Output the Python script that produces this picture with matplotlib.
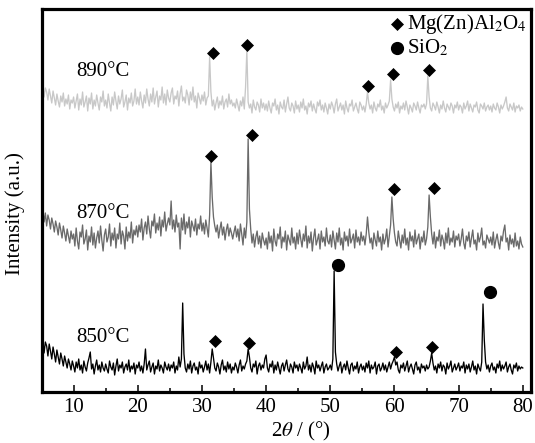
import numpy as np
import matplotlib
matplotlib.use("Agg")
import matplotlib.pyplot as plt

plt.rcParams["font.family"] = ["Liberation Serif", "DejaVu Serif"]
plt.rcParams["mathtext.fontset"] = "stix"

# 2-theta scan: 5-80 deg, 0.2 deg step
TWO_THETA_START, TWO_THETA_STOP, N_POINTS = 5.0, 80.0, 376

# Intensity (a.u.) of each sample, one row per 5 deg
i_850 = [
    44, 53, 39, 50, 46, 36, 48, 41, 33, 45, 38, 30, 42, 35, 28, 39, 33, 26, 36, 30, 24, 33, 28, 22, 31,
    26, 20, 30, 24, 33, 22, 27, 19, 31, 25, 21, 29, 34, 40, 23, 28, 18, 26, 32, 22, 27, 20, 30, 24, 21,
    28, 23, 19, 31, 25, 22, 29, 17, 26, 33, 21, 27, 24, 30, 19, 25, 28, 22, 32, 20, 26, 23, 29, 18, 27,
    24, 30, 21, 26, 19, 28, 43, 22, 27, 31, 20, 25, 29, 18, 26, 23, 32, 21, 27, 24, 19, 30, 25, 22, 28,
    21, 27, 24, 30, 19, 26, 22, 35, 25, 33, 89, 38, 24, 20, 28, 23, 31, 19, 26, 29, 22, 25, 18, 30, 24,
    27, 20, 25, 31, 22, 28, 19, 30, 43, 34, 24, 21, 29, 25, 18, 27, 32, 22, 26, 20, 30, 23, 28, 19, 25,
    22, 29, 25, 19, 27, 32, 21, 26, 23, 28, 31, 43, 35, 24, 20, 28, 25, 31, 18, 26, 29, 22, 27, 24, 33,
    37, 24, 20, 28, 25, 31, 19, 27, 22, 30, 24, 18, 26, 29, 21, 27, 32, 23, 20, 28, 25, 19, 30, 24, 27,
    21, 28, 24, 19, 30, 23, 26, 35, 22, 27, 20, 29, 25, 18, 31, 24, 27, 21, 26, 30, 19, 25, 28, 22, 24,
    27, 22, 33, 121, 40, 28, 21, 26, 30, 19, 25, 28, 22, 31, 24, 18, 27, 29, 21, 26, 23, 30, 19, 25, 28,
    22, 26, 20, 29, 24, 31, 19, 27, 23, 25, 30, 18, 26, 28, 21, 24, 29, 22, 27, 20, 25, 30, 23, 28, 31,
    35, 27, 30, 22, 19, 27, 24, 29, 21, 26, 31, 20, 25, 28, 23, 18, 27, 30, 22, 25, 19, 28, 24, 26, 21,
    27, 23, 25, 31, 39, 29, 22, 26, 19, 28, 24, 30, 21, 27, 25, 18, 29, 23, 26, 31, 20, 24, 28, 22, 25,
    29, 21, 26, 24, 30, 19, 27, 23, 28, 20, 25, 31, 22, 26, 18, 28, 24, 21, 30, 88, 52, 30, 23, 27, 20,
    26, 29, 22, 25, 19, 28, 24, 31, 21, 27, 23, 26, 30, 20, 25, 28, 22, 18, 27, 24, 29, 21, 26, 23, 25,
    24,
]

i_870 = [
    50, 58, 45, 54, 41, 52, 47, 38, 49, 43, 35, 46, 40, 32, 44, 37, 29, 41, 34, 26, 38, 31, 24, 36, 28,
    33, 21, 39, 26, 18, 35, 30, 42, 23, 28, 37, 17, 31, 25, 40, 22, 34, 19, 29, 36, 24, 41, 27, 16, 32,
    38, 25, 30, 43, 21, 34, 27, 39, 19, 33, 28, 44, 23, 36, 31, 18, 40, 26, 35, 29, 45, 24, 37, 32, 41,
    30, 42, 35, 48, 27, 39, 45, 33, 51, 38, 29, 46, 41, 53, 34, 44, 37, 50, 31, 47, 40, 55, 36, 43, 49,
    42, 66, 38, 47, 35, 52, 40, 44, 18, 49, 37, 53, 33, 45, 39, 50, 30, 46, 41, 36, 48, 32, 43, 38, 51,
    36, 44, 33, 47, 39, 30, 52, 105, 70, 50, 41, 35, 42, 29, 38, 45, 32, 40, 27, 37, 43, 31, 39, 34, 28,
    35, 41, 30, 38, 26, 43, 33, 22, 39, 29, 45, 128, 58, 38, 24, 33, 20, 30, 36, 23, 31, 19, 34, 27, 22,
    29, 18, 35, 24, 31, 16, 38, 26, 21, 33, 28, 40, 19, 30, 25, 36, 17, 32, 27, 22, 39, 24, 30, 18, 34,
    23, 37, 28, 20, 33, 26, 41, 19, 31, 24, 35, 16, 29, 38, 22, 27, 33, 18, 36, 25, 30, 21, 39, 26, 23,
    32, 20, 36, 27, 18, 34, 25, 39, 22, 29, 17, 35, 26, 31, 21, 38, 24, 28, 33, 19, 37, 25, 30, 22, 35,
    26, 31, 22, 33, 50, 35, 24, 29, 18, 34, 27, 21, 36, 25, 30, 17, 33, 23, 28, 38, 20, 31, 42, 70, 48,
    34, 25, 21, 36, 27, 19, 32, 24, 38, 22, 29, 17, 35, 26, 31, 20, 37, 23, 28, 33, 18, 30, 25, 36, 22,
    28, 40, 72, 50, 33, 23, 35, 19, 30, 26, 37, 21, 32, 27, 18, 34, 24, 39, 22, 29, 25, 36, 20, 31, 27,
    33, 21, 28, 38, 24, 18, 31, 26, 35, 20, 29, 37, 23, 27, 17, 34, 25, 30, 39, 22, 26, 19, 32, 28, 24,
    30, 22, 35, 19, 27, 33, 24, 18, 31, 26, 36, 42, 25, 29, 17, 32, 23, 28, 20, 34, 21, 26, 18, 30, 23,
    20,
]

i_890 = [
    38, 47, 35, 44, 40, 32, 43, 36, 29, 41, 34, 27, 38, 31, 25, 36, 30, 39, 26, 33, 28, 37, 23, 32, 29,
    35, 24, 31, 38, 22, 33, 27, 40, 25, 30, 36, 21, 34, 28, 39, 23, 32, 26, 37, 29, 22, 35, 30, 41, 26,
    32, 24, 38, 29, 21, 35, 27, 40, 31, 23, 36, 28, 33, 42, 25, 30, 37, 22, 34, 29, 39, 26, 31, 43, 28,
    35, 27, 40, 31, 24, 37, 29, 43, 33, 26, 38, 30, 44, 28, 35, 41, 25, 36, 32, 45, 29, 38, 27, 42, 34,
    30, 39, 44, 28, 36, 33, 41, 26, 38, 46, 31, 35, 29, 42, 37, 27, 40, 32, 45, 30, 36, 24, 39, 34, 28,
    37, 31, 40, 27, 34, 36, 75, 40, 26, 32, 22, 29, 35, 24, 31, 27, 36, 23, 30, 33, 25, 38, 28, 32, 26,
    29, 24, 33, 27, 21, 31, 26, 35, 23, 45, 82, 30, 24, 28, 19, 32, 25, 22, 30, 27, 20, 33, 24, 29, 22,
    28, 21, 31, 24, 19, 29, 26, 33, 22, 27, 18, 30, 25, 23, 32, 20, 28, 35, 24, 21, 29, 26, 19, 31, 23,
    27, 20, 30, 24, 33, 22, 26, 18, 29, 25, 31, 21, 28, 23, 19, 30, 26, 32, 22, 27, 20, 29, 24, 18, 28,
    23, 30, 26, 19, 28, 33, 21, 25, 29, 22, 27, 18, 31, 24, 20, 28, 26, 32, 21, 25, 29, 23, 19, 30, 27,
    22, 26, 20, 28, 40, 29, 23, 27, 19, 30, 24, 21, 28, 25, 32, 22, 26, 19, 29, 24, 27, 31, 52, 33, 25,
    21, 28, 24, 30, 19, 26, 23, 29, 22, 31, 25, 18, 27, 24, 20, 29, 26, 22, 30, 24, 19, 27, 25, 28, 23,
    28, 56, 35, 24, 21, 29, 26, 22, 30, 25, 19, 27, 23, 31, 24, 20, 28, 25, 22, 29, 26, 19, 27, 24, 30,
    22, 27, 25, 19, 29, 23, 26, 31, 21, 28, 24, 20, 27, 25, 30, 22, 19, 28, 26, 23, 29, 21, 25, 27, 22,
    26, 20, 28, 24, 22, 29, 25, 19, 27, 23, 26, 30, 35, 24, 21, 28, 25, 22, 29, 20, 26, 24, 27, 21, 25,
    23,
]

# Phase markers: 2-theta and intensity level of each symbol
spinel_890_x = [31.8, 37.06, 55.88, 59.77, 65.33]
spinel_890_y = [79, 87, 46, 58.5, 62.5]
spinel_870_x = [31.4, 37.74, 59.87, 66.1]
spinel_870_y = [111, 132, 78, 79]
spinel_850_x = [32.0, 37.3, 60.2, 65.9]
spinel_850_y = [51, 49, 40, 45]
quartz_850_x = [51.2, 74.9]
quartz_850_y = [127, 100]

temperatures = ["850°C", "870°C", "890°C"]
x_ticks = [10, 20, 30, 40, 50, 60, 70, 80]

two_theta = np.linspace(TWO_THETA_START, TWO_THETA_STOP, N_POINTS)

fig = plt.figure(figsize=(5.35, 4.43), dpi=100)
ax = fig.add_axes([41.5 / 535, 1 - 392 / 443, 489 / 535, 383 / 443])

offsets = [0, 125, 260]
colors = ["#000000", "#6a6a6a", "#c8c8c8"]
series = [i_850, i_870, i_890]
label_y = [54, 54, 61]

for data, off, col, temp, ly in zip(series, offsets, colors, temperatures, label_y):
    ax.plot(two_theta, np.asarray(data) + off, color=col, lw=0.95)
    ax.text(10.4, ly + off, temp, fontsize=15, ha="left", va="center")

mk = dict(marker="D", ms=6.3, color="black", linestyle="none", mew=0.5, zorder=5)
ax.plot(spinel_890_x, np.asarray(spinel_890_y) + offsets[2], **mk)
ax.plot(spinel_870_x, np.asarray(spinel_870_y) + offsets[1], **mk)
ax.plot(spinel_850_x, np.asarray(spinel_850_y) + offsets[0], **mk)
ax.plot(quartz_850_x, np.asarray(quartz_850_y) + offsets[0], marker="o", ms=8.5,
        color="black", linestyle="none", zorder=5)

# Phase key
ax.plot([0.7276], [0.9608], transform=ax.transAxes, **mk)
ax.plot([0.7276], [0.8974], transform=ax.transAxes, marker="o", ms=8.5,
        color="black", linestyle="none")
ax.text(0.7468, 0.9608, r"Mg(Zn)Al$_2$O$_4$", transform=ax.transAxes,
        fontsize=15, ha="left", va="center")
ax.text(0.7468, 0.8974, r"SiO$_2$", transform=ax.transAxes,
        fontsize=15, ha="left", va="center")

ax.set_xlim(5, 81.2)
ax.set_ylim(0, 383)
ax.set_xticks(x_ticks)
ax.set_xticks(np.arange(15, 80, 10), minor=True)
ax.set_yticks([])
ax.tick_params(axis="x", which="major", direction="in", length=5, width=1.1,
               labelsize=15, pad=4)
ax.tick_params(axis="x", which="minor", direction="in", length=3, width=1.1)
for s in ax.spines.values():
    s.set_linewidth(2.3)

ax.set_xlabel(r"2$\theta$ / (°)", fontsize=15, va="center")
ax.xaxis.set_label_coords(0.53, -0.102)
ax.set_ylabel("Intensity (a.u.)", fontsize=15)
ax.yaxis.set_label_coords(-0.034, 0.465)

fig.savefig("out.png", dpi=100)
